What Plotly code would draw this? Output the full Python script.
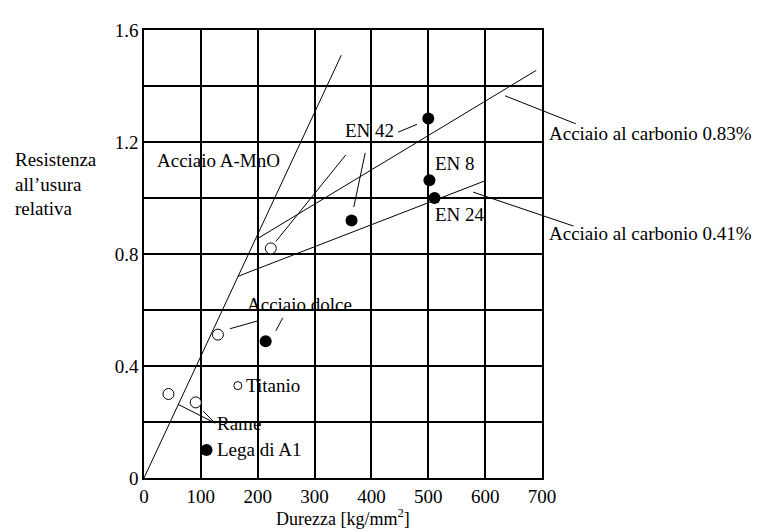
import plotly.graph_objects as go

FONT = "Liberation Serif"
FS = 19

# ---- data ----
# fitted lines (x = hardness, y = relative wear resistance)
line_mn_x = [0, 347]
line_mn_y = [0, 1.51]
line_c83_x = [198, 690]
line_c83_y = [0.853, 1.456]
line_c41_x = [165, 598]
line_c41_y = [0.72, 1.06]

# open-circle points
open_x = [223, 130, 43, 91]
open_y = [0.82, 0.512, 0.30, 0.27]
titanio_x = [165]
titanio_y = [0.33]

# filled points
filled_x = [500, 502, 511, 365, 214, 110]
filled_y = [1.284, 1.063, 1.00, 0.92, 0.488, 0.10]

# leader segments inside the plot (x0, y0, x1, y1)
leaders = [
    (355, 1.154, 232, 0.845),   # EN 42 -> open circle
    (389, 1.161, 369, 0.968),   # EN 42 -> dot
    (447, 1.235, 480, 1.263),   # EN 42 -> right dot
    (151, 0.533, 200, 0.561),   # Acciaio dolce -> open
    (232, 0.526, 244, 0.572),   # Acciaio dolce -> filled
    (60, 0.263, 125, 0.196),    # Rame
    (104, 0.239, 125, 0.196),   # Rame
]
# leaders to outside labels (head inside plot, tail outside)
out_leaders = [
    (635, 1.365, 762, 1.263),
    (579, 1.021, 758, 0.898),
]

# labels inside plot: (text, x, y)
labels = [
    ("Acciaio A-MnO", 19, 1.133),
    ("EN 42", 350, 1.240),
    ("EN 8", 508, 1.123),
    ("EN 24", 508, 0.940),
    ("Acciaio dolce", 178, 0.618),
    ("Titanio", 176, 0.33),
    ("Rame", 125, 0.196),
    ("Lega di A1", 124, 0.102),
]
# labels outside plot on right: (text, y)
right_labels = [
    ("Acciaio al carbonio 0.83%", 1.232),
    ("Acciaio al carbonio 0.41%", 0.874),
]

x_ticks = [0, 100, 200, 300, 400, 500, 600, 700]
y_ticks = [0, 0.2, 0.4, 0.6, 0.8, 1.0, 1.2, 1.4, 1.6]
y_ticktext = ["0", "", "0.4", "", "0.8", "", "1.2", "", "1.6"]

# ---- figure ----
fig = go.Figure()
ln = dict(color="black", width=1)
for xs, ys in [(line_mn_x, line_mn_y), (line_c83_x, line_c83_y), (line_c41_x, line_c41_y)]:
    fig.add_trace(go.Scatter(x=xs, y=ys, mode="lines", line=ln, showlegend=False, hoverinfo="skip"))

lx, ly = [], []
for x0, y0, x1, y1 in leaders:
    lx += [x0, x1, None]
    ly += [y0, y1, None]
fig.add_trace(go.Scatter(x=lx, y=ly, mode="lines", line=ln, showlegend=False, hoverinfo="skip"))

fig.add_trace(go.Scatter(x=open_x, y=open_y, mode="markers",
                         marker=dict(symbol="circle", size=11, color="white", line=dict(color="black", width=1)),
                         showlegend=False))
fig.add_trace(go.Scatter(x=titanio_x, y=titanio_y, mode="markers",
                         marker=dict(symbol="circle", size=8, color="white", line=dict(color="black", width=1)),
                         showlegend=False))
fig.add_trace(go.Scatter(x=filled_x, y=filled_y, mode="markers",
                         marker=dict(symbol="circle", size=12, color="black"),
                         showlegend=False))

anns = []
for t, x, y in labels:
    anns.append(dict(text=t, x=x, y=y, xref="x", yref="y", xanchor="left", yanchor="middle",
                     showarrow=False, font=dict(family=FONT, size=FS, color="black")))
for t, y in right_labels:
    anns.append(dict(text=t, x=1.012, y=y, xref="paper", yref="y", xanchor="left", yanchor="middle",
                     showarrow=False, font=dict(family=FONT, size=FS, color="black")))
for hx, hy, tx, ty in out_leaders:
    anns.append(dict(text="", x=hx, y=hy, xref="x", yref="y", ax=tx, ay=ty, axref="x", ayref="y",
                     showarrow=True, arrowhead=0, arrowwidth=1, arrowcolor="black", standoff=0, startstandoff=0))
anns.append(dict(text="Resistenza<br>all’usura<br>relativa", x=-0.33, y=0.656, xref="paper", yref="paper",
                 xanchor="left", yanchor="middle", align="left", showarrow=False,
                 font=dict(family=FONT, size=FS, color="black")))
anns.append(dict(text="Durezza [kg/mm<sup>2</sup>]", x=0.5, y=-0.088, xref="paper", yref="paper",
                 xanchor="center", yanchor="middle", showarrow=False,
                 font=dict(family=FONT, size=18, color="black")))

# page has an 8px body margin, so the figure is 8px smaller and margins shifted
fig.update_layout(
    width=754, height=522,
    margin=dict(l=136, r=220, t=14, b=52),
    paper_bgcolor="white", plot_bgcolor="white",
    font=dict(family=FONT, size=FS, color="black"),
    annotations=anns,
    xaxis=dict(range=[0, 700], tickvals=x_ticks, showgrid=True, gridcolor="black", gridwidth=1.5,
               showline=True, linecolor="black", linewidth=1.5, mirror=True, zeroline=False,
               ticks="", fixedrange=True),
    yaxis=dict(range=[0, 1.6], tickvals=y_ticks, ticktext=y_ticktext, showgrid=True, gridcolor="black",
               gridwidth=1.5, showline=True, linecolor="black", linewidth=1.5, mirror=True, zeroline=False,
               ticks="", fixedrange=True),
)

fig.write_html("out.html")
